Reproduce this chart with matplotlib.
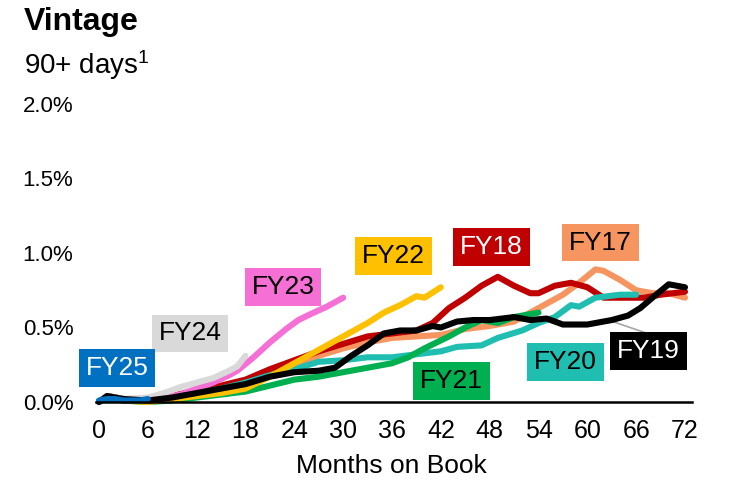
import matplotlib
matplotlib.use("Agg")
import matplotlib.pyplot as plt
import matplotlib.ticker as ticker

plt.rcParams['font.family'] = ['Liberation Sans', 'DejaVu Sans']
plt.rcParams['mathtext.fontset'] = 'custom'
plt.rcParams['mathtext.rm'] = 'Liberation Sans'
plt.rcParams['mathtext.it'] = 'Liberation Sans'

# 90+ day delinquency by vintage, % of balance
fy17_m = [0, 1, 3, 6, 9, 12, 15, 18, 21, 24, 27, 30, 33, 36, 39, 42, 45, 48, 51, 53, 55, 57, 59, 61, 62, 64, 66, 68, 70, 72]
fy17_v = [0.0, 0.04, 0.02, 0.01, 0.03, 0.06, 0.09, 0.13, 0.18, 0.24, 0.31, 0.36, 0.40, 0.43, 0.44, 0.45, 0.49, 0.51, 0.54, 0.60, 0.66, 0.72, 0.80, 0.89, 0.88, 0.82, 0.75, 0.73, 0.73, 0.70]

fy18_m = [0, 1, 3, 6, 9, 12, 15, 18, 21, 24, 27, 30, 33, 36, 39, 41, 43, 45, 47, 49, 51, 53, 54, 56, 58, 60, 62, 65, 67, 69, 72]
fy18_v = [0.0, 0.04, 0.02, 0.02, 0.04, 0.08, 0.11, 0.15, 0.22, 0.28, 0.34, 0.39, 0.44, 0.46, 0.48, 0.53, 0.63, 0.70, 0.78, 0.84, 0.78, 0.73, 0.73, 0.78, 0.80, 0.77, 0.70, 0.70, 0.70, 0.72, 0.74]

fy19_m = [0, 1, 3, 6, 9, 12, 15, 18, 21, 24, 27, 29, 31, 33, 35, 37, 39, 41, 42, 44, 46, 48, 51, 53, 55, 57, 60, 63, 65, 66.5, 68, 70, 71, 72]
fy19_v = [0.0, 0.04, 0.02, 0.01, 0.03, 0.06, 0.09, 0.12, 0.17, 0.20, 0.21, 0.23, 0.31, 0.38, 0.46, 0.48, 0.48, 0.51, 0.50, 0.54, 0.55, 0.55, 0.57, 0.55, 0.56, 0.52, 0.52, 0.55, 0.58, 0.63, 0.70, 0.79, 0.78, 0.77]

fy20_m = [0, 1, 3, 6, 9, 12, 15, 18, 21, 24, 27, 30, 33, 36, 39, 42, 44, 47, 49, 52, 54, 56, 58, 59, 61, 64, 66]
fy20_v = [0.0, 0.04, 0.02, 0.01, 0.03, 0.06, 0.09, 0.13, 0.18, 0.22, 0.27, 0.28, 0.30, 0.30, 0.32, 0.34, 0.37, 0.38, 0.43, 0.48, 0.53, 0.57, 0.65, 0.64, 0.70, 0.72, 0.72]

fy21_m = [0, 1, 3, 6, 9, 12, 15, 18, 21, 24, 27, 30, 33, 36, 38, 40, 43, 45, 47, 49, 51, 54]
fy21_v = [0.0, 0.03, 0.01, 0.0, 0.01, 0.03, 0.05, 0.07, 0.11, 0.15, 0.17, 0.20, 0.23, 0.26, 0.30, 0.36, 0.44, 0.50, 0.55, 0.53, 0.57, 0.60]

fy22_m = [0, 1, 3, 6, 9, 12, 15, 18, 21, 24, 27, 30, 33, 35, 37, 39, 40, 42]
fy22_v = [0.0, 0.03, 0.01, 0.0, 0.02, 0.04, 0.06, 0.09, 0.17, 0.26, 0.35, 0.44, 0.53, 0.60, 0.65, 0.71, 0.70, 0.77]

fy23_m = [0, 1, 3, 6, 8, 10, 12, 14, 16, 17, 19, 21, 23, 24.5, 26, 28, 29, 30]
fy23_v = [0.0, 0.04, 0.02, 0.01, 0.03, 0.05, 0.09, 0.13, 0.18, 0.21, 0.30, 0.40, 0.49, 0.55, 0.59, 0.64, 0.67, 0.70]

fy24_m = [0, 1, 3, 6, 8, 10, 12, 14, 16, 17, 18]
fy24_v = [0.0, 0.04, 0.02, 0.03, 0.06, 0.10, 0.13, 0.16, 0.21, 0.24, 0.31]

fy25_m = [0, 1, 2, 3, 4, 5, 6]
fy25_v = [0.01, 0.02, 0.02, 0.01, 0.01, 0.01, 0.02]

series = [
    ("FY17", fy17_m, fy17_v, "#F79560", "black", (61.6, 1.07)),
    ("FY18", fy18_m, fy18_v, "#C00000", "white", (48.2, 1.04)),
    ("FY20", fy20_m, fy20_v, "#20BEB0", "black", (57.3, 0.27)),
    ("FY21", fy21_m, fy21_v, "#00B050", "black", (43.3, 0.14)),
    ("FY22", fy22_m, fy22_v, "#FFC000", "black", (36.2, 0.98)),
    ("FY23", fy23_m, fy23_v, "#F56FD5", "black", (22.6, 0.77)),
    ("FY24", fy24_m, fy24_v, "#D9D9D9", "black", (11.2, 0.46)),
    ("FY19", fy19_m, fy19_v, "#000000", "white", (67.5, 0.34)),
    ("FY25", fy25_m, fy25_v, "#0070C0", "white", (2.2, 0.23)),
]

fig = plt.figure(figsize=(7.43, 4.83), dpi=100)
ax = fig.add_axes([0.1288, 0.1677, 0.8019, 0.617])

# leader line for the FY19 label
ax.plot([63.1, 67.4], [0.54, 0.46], color="#A6A6A6", lw=1.2, zorder=1)

for name, m, v, col, tcol, pos in series:
    ax.plot(m, v, color=col, lw=4.4, solid_capstyle="round",
            solid_joinstyle="round", clip_on=False, zorder=2)
    ax.text(pos[0], pos[1], name, color=tcol, fontsize=19,
            ha="center", va="center", zorder=5,
            bbox=dict(boxstyle="square,pad=0.26", fc=col, ec="none"))

ax.set_xlim(-0.4, 72.8)
ax.set_ylim(0, 2.0)
ax.xaxis.set_major_locator(ticker.MultipleLocator(6))
ax.yaxis.set_major_locator(ticker.MultipleLocator(0.5))
ax.yaxis.set_major_formatter(ticker.FuncFormatter(lambda y, p: f"{y:.1f}%"))

for s in ["top", "right", "left"]:
    ax.spines[s].set_visible(False)
ax.spines["bottom"].set_linewidth(1.8)
ax.tick_params(axis="both", length=0)
ax.tick_params(axis="y", pad=16, labelsize=16)
ax.tick_params(axis="x", pad=12, labelsize=18)

fig.text(391 / 743, 1 - 466 / 483, "Months on Book", fontsize=19,
         ha="center", va="center")
fig.text(24 / 743, 1 - 22 / 483, "Vintage", fontsize=23, fontweight="bold",
         ha="left", va="center")
fig.text(24 / 743, 1 - 65 / 483, "90+ days$^{1}$", fontsize=20,
         ha="left", va="center")

fig.savefig("out.png", dpi=100)
